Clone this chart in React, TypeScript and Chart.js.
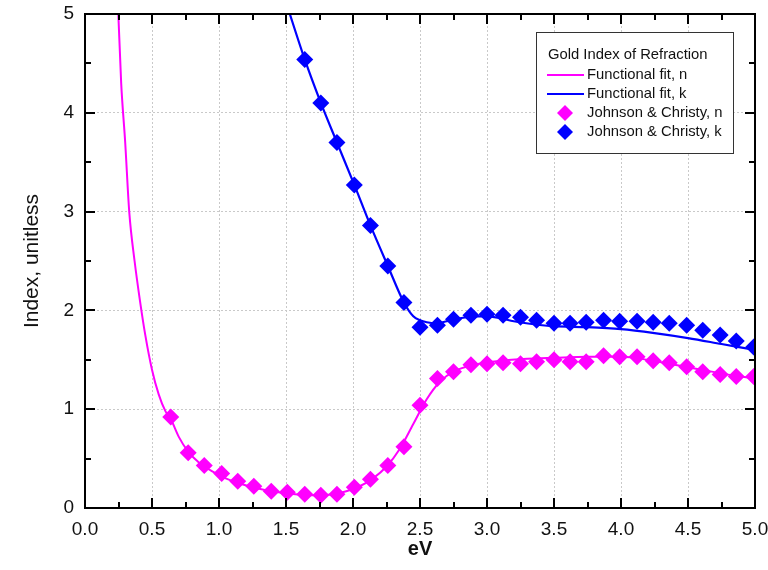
import React, { useEffect, useRef } from "react";
import { Chart, registerables } from "chart.js";

Chart.register(...registerables);

// Johnson & Christy measured optical constants of gold
const jcEnergy = [
  0.64, 0.77, 0.89, 1.02, 1.14, 1.26, 1.39, 1.51, 1.64, 1.76, 1.88, 2.01,
  2.13, 2.26, 2.38, 2.5, 2.63, 2.75, 2.88, 3.0, 3.12, 3.25, 3.37, 3.5, 3.62,
  3.74, 3.87, 3.99, 4.12, 4.24, 4.36, 4.49, 4.61, 4.74, 4.86, 4.99,
];
const jcN = [
  0.92, 0.56, 0.43, 0.35, 0.27, 0.22, 0.17, 0.16, 0.14, 0.13, 0.14, 0.21,
  0.29, 0.43, 0.62, 1.04, 1.31, 1.38, 1.45, 1.46, 1.47, 1.46, 1.48, 1.5, 1.48,
  1.48, 1.54, 1.53, 1.53, 1.49, 1.47, 1.43, 1.38, 1.35, 1.33, 1.33,
];
const jcK = [
  13.78, 11.21, 9.52, 8.15, 7.15, 6.35, 5.66, 5.08, 4.54, 4.1, 3.7, 3.27,
  2.86, 2.45, 2.08, 1.83, 1.85, 1.91, 1.95, 1.96, 1.95, 1.93, 1.9, 1.87,
  1.87, 1.88, 1.9, 1.89, 1.89, 1.88, 1.87, 1.85, 1.8, 1.75, 1.69, 1.63,
];

// Functional fit curves
const fitNEnergy = [
  0.24, 0.27, 0.3, 0.33, 0.37, 0.41, 0.45, 0.5, 0.55, 0.6, 0.64, 0.7, 0.77,
  0.85, 0.95, 1.05, 1.15, 1.25, 1.35, 1.5, 1.65, 1.75, 1.85, 1.95, 2.05, 2.15,
  2.25, 2.35, 2.45, 2.55, 2.65, 2.75, 2.9, 3.1, 3.3, 3.5, 3.75, 4.0, 4.2, 4.4,
  4.6, 4.8, 5.0,
];
const fitN = [
  5.3, 4.3, 3.7, 3.0, 2.5, 2.1, 1.75, 1.4, 1.15, 0.98, 0.9, 0.72, 0.57, 0.46,
  0.37, 0.3, 0.25, 0.21, 0.18, 0.15, 0.13, 0.13, 0.14, 0.17, 0.22, 0.3, 0.42,
  0.6, 0.85, 1.1, 1.28, 1.38, 1.45, 1.49, 1.51, 1.52, 1.53, 1.53, 1.5, 1.45,
  1.4, 1.35, 1.31,
];
const fitKEnergy = [
  1.5, 1.64, 1.76, 1.88, 2.01, 2.13, 2.26, 2.38, 2.45, 2.5, 2.55, 2.62, 2.7,
  2.8, 2.9, 3.0, 3.1, 3.2, 3.35, 3.5, 3.75, 4.0, 4.25, 4.5, 4.75, 5.0,
];
const fitK = [
  5.12, 4.54, 4.1, 3.7, 3.27, 2.86, 2.45, 2.08, 1.94, 1.9, 1.88, 1.87, 1.89,
  1.92, 1.94, 1.94, 1.92, 1.89, 1.86, 1.84, 1.83, 1.81, 1.77, 1.72, 1.66, 1.6,
];

const xTicksMinor = [0, 0.25, 0.5, 0.75, 1, 1.25, 1.5, 1.75, 2, 2.25, 2.5, 2.75, 3, 3.25, 3.5, 3.75, 4, 4.25, 4.5, 4.75, 5];
const yTicksMinor = [0, 0.5, 1, 1.5, 2, 2.5, 3, 3.5, 4, 4.5, 5];

const legendTitle = "Gold Index of Refraction";
const FONT = "'Liberation Sans', Arial, sans-serif";
const MAGENTA = "#ff00ff";
const BLUE = "#0000ff";

const toPoints = (xs: number[], ys: number[]) => xs.map((x, i) => ({ x, y: ys[i] }));

// Closed frame with inward-pointing major and minor ticks
const framePlugin = {
  id: "frame",
  afterDatasetsDraw(chart: any) {
    const { ctx, chartArea: a, scales } = chart;
    const xs = scales.x;
    const ys = scales.y;
    ctx.save();
    ctx.strokeStyle = "#000";
    ctx.lineWidth = 2;
    ctx.strokeRect(a.left, a.top, a.right - a.left, a.bottom - a.top);
    ctx.beginPath();
    xTicksMinor.forEach((v, i) => {
      const px = Math.round(xs.getPixelForValue(v));
      const len = i % 2 === 0 ? 10 : 6;
      ctx.moveTo(px, a.bottom);
      ctx.lineTo(px, a.bottom - len);
      ctx.moveTo(px, a.top);
      ctx.lineTo(px, a.top + len);
    });
    yTicksMinor.forEach((v, i) => {
      const py = Math.round(ys.getPixelForValue(v));
      const len = i % 2 === 0 ? 10 : 6;
      ctx.moveTo(a.left, py);
      ctx.lineTo(a.left + len, py);
      ctx.moveTo(a.right, py);
      ctx.lineTo(a.right - len, py);
    });
    ctx.stroke();
    ctx.restore();
  },
};

const drawDiamond = (ctx: CanvasRenderingContext2D, x: number, y: number, r: number, color: string) => {
  ctx.beginPath();
  ctx.moveTo(x - r, y);
  ctx.lineTo(x, y - r);
  ctx.lineTo(x + r, y);
  ctx.lineTo(x, y + r);
  ctx.closePath();
  ctx.fillStyle = color;
  ctx.fill();
};

// Boxed legend inside the plot, upper right
const legendPlugin = {
  id: "boxLegend",
  afterDraw(chart: any) {
    const { ctx } = chart;
    const bx = 536;
    const by = 32;
    const bw = 197;
    const bh = 121;
    ctx.save();
    ctx.fillStyle = "#fff";
    ctx.fillRect(bx, by, bw, bh);
    ctx.strokeStyle = "#333";
    ctx.lineWidth = 1;
    ctx.strokeRect(bx + 0.5, by + 0.5, bw, bh);
    ctx.fillStyle = "#111";
    ctx.font = `14.8px ${FONT}`;
    ctx.textBaseline = "middle";
    ctx.textAlign = "left";
    ctx.fillText(legendTitle, 548, 55);
    const datasets = chart.data.datasets;
    const rows = [75, 94, 113, 132];
    datasets.forEach((ds: any, i: number) => {
      const y = rows[i];
      if (ds.showLine === false) {
        drawDiamond(ctx, 565, y, 8, ds.backgroundColor);
      } else {
        ctx.strokeStyle = ds.borderColor;
        ctx.lineWidth = ds.borderWidth;
        ctx.beginPath();
        ctx.moveTo(547, y);
        ctx.lineTo(584, y);
        ctx.stroke();
      }
      ctx.fillStyle = "#111";
      ctx.fillText(ds.label, 587, y);
    });
    ctx.restore();
  },
};

export default function App() {
  const canvasRef = useRef<HTMLCanvasElement | null>(null);

  useEffect(() => {
    if (!canvasRef.current) return;
    const chart = new Chart(canvasRef.current, {
      type: "line",
      data: {
        datasets: [
          {
            label: "Functional fit, n",
            data: toPoints(fitNEnergy, fitN),
            borderColor: MAGENTA,
            backgroundColor: MAGENTA,
            borderWidth: 2,
            pointRadius: 0,
            cubicInterpolationMode: "monotone",
            clip: 0,
            order: 3,
          },
          {
            label: "Functional fit, k",
            data: toPoints(fitKEnergy, fitK),
            borderColor: BLUE,
            backgroundColor: BLUE,
            borderWidth: 2.2,
            pointRadius: 0,
            cubicInterpolationMode: "monotone",
            clip: 0,
            order: 4,
          },
          {
            label: "Johnson & Christy, n",
            data: toPoints(jcEnergy, jcN),
            showLine: false,
            pointStyle: "rectRot",
            pointRadius: 8.5,
            pointBorderWidth: 0,
            backgroundColor: MAGENTA,
            borderColor: MAGENTA,
            clip: 0,
            order: 1,
          },
          {
            label: "Johnson & Christy, k",
            data: toPoints(jcEnergy, jcK),
            showLine: false,
            pointStyle: "rectRot",
            pointRadius: 8.5,
            pointBorderWidth: 0,
            backgroundColor: BLUE,
            borderColor: BLUE,
            clip: 0,
            order: 2,
          },
        ],
      } as any,
      options: {
        animation: false,
        responsive: false,
        maintainAspectRatio: false,
        layout: { padding: { top: 14, right: 13, left: 0, bottom: 0 } },
        plugins: {
          legend: { display: false },
          tooltip: { enabled: false },
        },
        scales: {
          x: {
            type: "linear",
            min: 0,
            max: 5,
            afterFit: (s: any) => {
              s.height = 62;
              s.paddingLeft = 0;
              s.paddingRight = 0;
            },
            ticks: {
              stepSize: 0.5,
              autoSkip: false,
              maxRotation: 0,
              padding: 10,
              color: "#111",
              font: { family: FONT, size: 19 },
              callback: (v: any) => Number(v).toFixed(1),
            },
            grid: { color: "#c9c9c9", lineWidth: 1, drawTicks: false },
            border: { display: false, dash: [2, 2] },
            title: {
              display: true,
              text: "eV",
              color: "#111",
              font: { family: FONT, size: 20, weight: "bold" },
              padding: { top: 0, bottom: 9 },
            },
          },
          y: {
            type: "linear",
            min: 0,
            max: 5,
            afterFit: (s: any) => {
              s.width = 85;
              s.paddingTop = 0;
              s.paddingBottom = 0;
            },
            ticks: {
              stepSize: 1,
              autoSkip: false,
              padding: 11,
              color: "#111",
              font: { family: FONT, size: 19 },
            },
            grid: { color: "#c9c9c9", lineWidth: 1, drawTicks: false },
            border: { display: false, dash: [2, 2] },
            title: {
              display: true,
              text: "Index, unitless",
              color: "#111",
              font: { family: FONT, size: 21 },
              padding: { top: 20, bottom: 0 },
            },
          },
        },
      } as any,
      plugins: [framePlugin, legendPlugin],
    });
    return () => chart.destroy();
  }, []);

  return (
    <div style={{ position: "fixed", left: 0, top: 0, width: 768, height: 570, background: "#fff" }}>
      <canvas ref={canvasRef} width={768} height={570} style={{ display: "block", width: 768, height: 570 }} />
    </div>
  );
}
